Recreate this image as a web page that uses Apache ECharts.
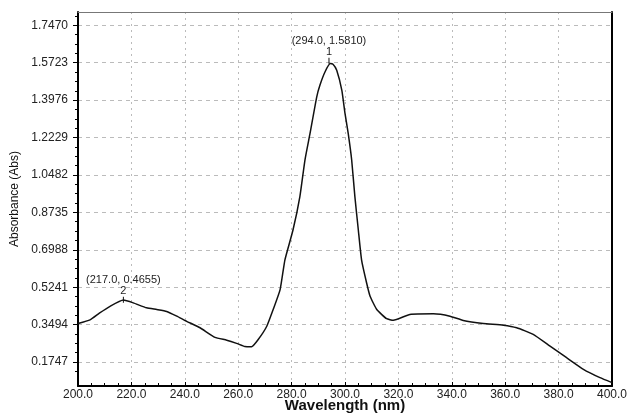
<!DOCTYPE html>
<html>
<head>
<meta charset="utf-8">
<script src="https://cdn.jsdelivr.net/npm/echarts@6/dist/echarts.min.js"></script>
<style>
  html, body { margin: 0; padding: 0; background: #fff; }
  #chart { width: 628px; height: 414px; }
</style>
</head>
<body>
<div id="chart"></div>
<script>
// spectrum
var wavelength = [200, 204.5, 208, 212, 217, 220.7, 225.7, 229.5, 233.2, 237, 240.7, 245.7,
  251.3, 255.7, 259.4, 262.5, 265, 267.5, 270.7, 273.1, 275.7, 277.5, 280.5, 283.1, 285,
  286.9, 289.4, 290.6, 292.5, 294.5, 295.5, 296.9, 298.8, 300, 301.2, 302.5, 303.7, 305,
  306.2, 308.1, 309.4, 311.9, 315.6, 318.1, 324.3, 333.1, 339.3, 344.3, 351.8, 359.3,
  364.3, 370.5, 376.8, 383, 389.3, 395.5, 400];
var absorbance = [0.355, 0.372, 0.403, 0.435, 0.464, 0.451, 0.428, 0.420, 0.411, 0.389, 0.365, 0.335,
  0.290, 0.277, 0.262, 0.247, 0.246, 0.280, 0.342, 0.420, 0.513, 0.652, 0.790, 0.947, 1.118,
  1.242, 1.412, 1.467, 1.529, 1.568, 1.565, 1.537, 1.444, 1.336, 1.242, 1.118, 0.947, 0.790,
  0.652, 0.544, 0.482, 0.420, 0.377, 0.370, 0.397, 0.400, 0.389, 0.369, 0.355, 0.347,
  0.335, 0.304, 0.249, 0.195, 0.141, 0.102, 0.079];

// peak picks
var peakX = [294.0, 217.0];
var peakY = [1.5810, 0.4655];
var peakNo = ['1', '2'];

// y tick labels
var yTicks = [0.1747, 0.3494, 0.5241, 0.6988, 0.8735, 1.0482, 1.2229, 1.3976, 1.5723, 1.7470];
var yMin = 0.063, yMax = 1.809;

var yMinor = [];
for (var v = yTicks[0] - 0.1747 / 4; v < yMax; v += 0.1747 / 4) {
  if (v > yMin) yMinor.push(+v.toFixed(5));
}

var chart = echarts.init(document.getElementById('chart'));

var font = 'Liberation Sans, Arial, sans-serif';

chart.setOption({
  backgroundColor: '#fff',
  animation: false,
  grid: { left: 78, right: 16, top: 12, bottom: 28, outerBoundsMode: 'none' },
  xAxis: [{
    type: 'value',
    min: 200, max: 400, interval: 20,
    name: 'Wavelength (nm)',
    nameLocation: 'middle',
    nameGap: 12,
    nameMoveOverlap: false,
    nameTextStyle: { fontFamily: font, fontSize: 15, fontWeight: 'bold', color: '#111' },
    axisLine: { show: true, lineStyle: { color: '#000', width: 2 } },
    axisTick: { show: true, inside: true, length: 4, lineStyle: { color: '#000' } },
    minorTick: { show: true, splitNumber: 4, length: 3, lineStyle: { color: '#000' } },
    axisLabel: {
      fontFamily: font, fontSize: 12, color: '#222', margin: 3,
      formatter: function (val) { return val.toFixed(1); }
    },
    splitLine: { show: true, lineStyle: { color: '#bbb', type: [2, 4] } }
  }, {
    type: 'value', position: 'top',
    min: 200, max: 400,
    axisLine: { show: true, lineStyle: { color: '#777', width: 1 } },
    axisTick: { show: false }, axisLabel: { show: false }, splitLine: { show: false }
  }],
  yAxis: [{
    type: 'value',
    min: yMin, max: yMax,
    name: 'Absorbance (Abs)',
    nameLocation: 'middle',
    nameGap: 56,
    nameTextStyle: { fontFamily: font, fontSize: 12, color: '#111' },
    axisLine: { show: true, lineStyle: { color: '#000', width: 2 } },
    axisTick: { show: true, length: 5, customValues: yTicks, lineStyle: { color: '#000' } },
    axisLabel: {
      fontFamily: font, fontSize: 12, color: '#222', margin: 10,
      customValues: yTicks,
      formatter: function (val) { return val.toFixed(4); }
    },
    splitLine: { show: true, lineStyle: { color: '#bbb', type: [4, 4] } }
  }, {
    type: 'value', position: 'left',
    min: yMin, max: yMax,
    axisLine: { show: false },
    axisTick: { show: true, length: 3, customValues: yMinor, lineStyle: { color: '#000' } },
    axisLabel: { show: false }, splitLine: { show: false }
  }, {
    type: 'value', position: 'right',
    min: yMin, max: yMax,
    axisLine: { show: true, lineStyle: { color: '#000', width: 2 } },
    axisTick: { show: false }, axisLabel: { show: false }, splitLine: { show: false }
  }],
  series: [{
    type: 'line',
    data: wavelength.map(function (w, i) { return [w, absorbance[i]]; }),
    showSymbol: false,
    smooth: 0.15,
    lineStyle: { color: '#111', width: 1.5 },
    markPoint: {
      symbol: 'rect',
      symbolSize: [1, 6],
      itemStyle: { color: '#111' },
      label: {
        show: true, position: 'top', distance: 0,
        fontFamily: font, fontSize: 11, lineHeight: 11, color: '#222',
        formatter: function (p) { return p.data.text; }
      },
      data: peakX.map(function (x, i) {
        return {
          coord: [x, peakY[i]],
          text: '(' + x.toFixed(1) + ', ' + peakY[i].toFixed(4) + ')\n' + peakNo[i]
        };
      })
    }
  }]
});
</script>
</body>
</html>
